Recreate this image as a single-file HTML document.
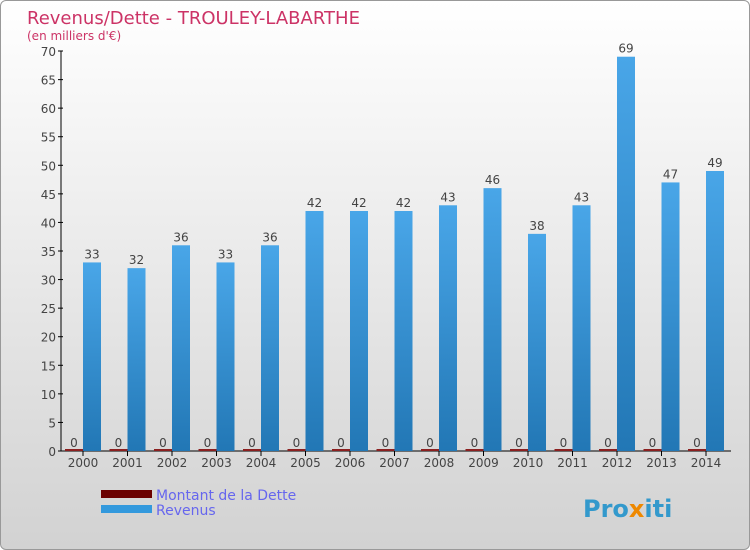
<!DOCTYPE html>
<html><head><meta charset="utf-8"><style>
body{margin:0;}
#wrap{position:relative;width:748px;height:548px;border:1px solid #999;border-radius:6px;background:linear-gradient(#ffffff,#d2d2d2);overflow:hidden;font-family:"DejaVu Sans","Liberation Sans",sans-serif;}
</style></head><body>
<div id="wrap">
<svg id="chart" width="748" height="548">
<defs><linearGradient id="gb" x1="0" y1="0" x2="0" y2="1"><stop offset="0" stop-color="#49a6e8"/><stop offset="1" stop-color="#2277b5"/></linearGradient></defs>
<text x="26" y="23" font-size="18" fill="#cc3366">Revenus/Dette - TROULEY-LABARTHE</text>
<text x="26" y="39" font-size="12" fill="#cc3366">(en milliers d'€)</text>
<g id="plot"></g>
<rect x="100" y="489" width="51" height="8" fill="#6b0000"/>
<text x="155" y="499" font-size="14" fill="#6666ee">Montant de la Dette</text>
<rect x="100" y="504" width="51" height="8" fill="#3399dd"/>
<text x="155" y="514" font-size="14" fill="#6666ee">Revenus</text>
<text x="582" y="516" font-size="24" font-weight="bold" fill="#3399cc">Pro<tspan fill="#ee8800">x</tspan>iti</text>
</svg>
</div>
<script>
const years=["2000","2001","2002","2003","2004","2005","2006","2007","2008","2009","2010","2011","2012","2013","2014"];
const revenus=[33,32,36,33,36,42,42,42,43,46,38,43,69,47,49];
const dette=[0,0,0,0,0,0,0,0,0,0,0,0,0,0,0];
const yTicks=[0,5,10,15,20,25,30,35,40,45,50,55,60,65,70];
const NS="http://www.w3.org/2000/svg";
const g=document.getElementById('plot');
const y=v=>450-v*400/70;
const x=i=>82+i*44.5;
function mk(t,a){const e=document.createElementNS(NS,t);for(const k in a)e.setAttribute(k,a[k]);g.appendChild(e);return e;}
let ax=mk('line',{x1:60,y1:50,x2:60,y2:450,stroke:'#000'});


let bx=mk('line',{x1:60,y1:450,x2:730,y2:450,stroke:'#000'});


yTicks.forEach(v=>{
  const t=mk('line',{x1:57,y1:y(v),x2:62,y2:y(v),stroke:'#000'});
  
  
  const l=mk('text',{x:55,y:y(v)+5,'font-size':12,fill:'#444','text-anchor':'end'});
  l.textContent=v;
  
  
});
years.forEach((yr,i)=>{
  const cx=x(i);
  const d=mk('rect',{x:cx-18,y:y(dette[i])-2,width:18,height:2+ (450-y(dette[i])),fill:'#8b2020'});
  
  
  const dl=mk('text',{x:cx-9,y:y(dette[i])-4,'font-size':12,fill:'#444','text-anchor':'middle'});
  dl.textContent=dette[i];
  
  
  const r=mk('rect',{x:cx,y:y(revenus[i]),width:18,height:450-y(revenus[i]),fill:'url(#gb)'});
  
  
  const rl=mk('text',{x:cx+9,y:y(revenus[i])-4,'font-size':12,fill:'#444','text-anchor':'middle'});
  rl.textContent=revenus[i];
  
  
  const tk=mk('line',{x1:cx,y1:450,x2:cx,y2:455,stroke:'#000'});
  
  
  const xl=mk('text',{x:cx,y:466,'font-size':12,fill:'#444','text-anchor':'middle'});
  xl.textContent=yr;
  
  
});
</script>
</body></html>
